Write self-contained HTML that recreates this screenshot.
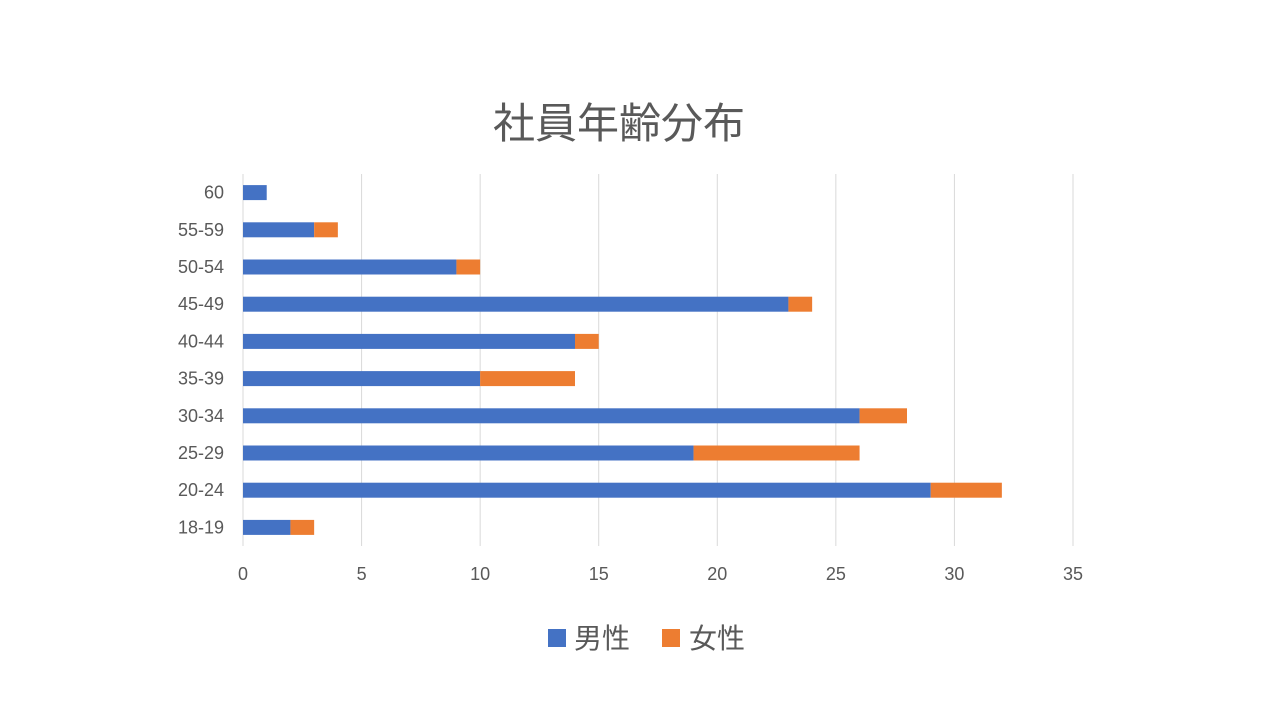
<!DOCTYPE html>
<html><head><meta charset="utf-8"><style>
body{margin:0;background:#fff;width:1280px;height:720px;overflow:hidden;font-family:"Liberation Sans","Noto Sans CJK JP",sans-serif;}
</style></head><body>
<svg width="1280" height="720" xmlns="http://www.w3.org/2000/svg">
<text x="619" y="138" text-anchor="middle" font-size="42" fill="#595959" font-family="Noto Sans CJK JP, sans-serif">社員年齢分布</text>
<g id="grid"></g>
<g id="bars"></g>
<g id="labels"></g>
<g>
<rect x="548" y="629" width="18" height="18" fill="#4472C4"/>
<text x="574" y="648" font-size="28" fill="#595959" font-family="Noto Sans CJK JP, sans-serif">男性</text>
<rect x="662" y="629" width="18" height="18" fill="#ED7D31"/>
<text x="689" y="648" font-size="28" fill="#595959" font-family="Noto Sans CJK JP, sans-serif">女性</text>
</g>
</svg>
<script>
const categories=["18-19","20-24","25-29","30-34","35-39","40-44","45-49","50-54","55-59","60"];
const maleValues=[2,29,19,26,10,14,23,9,3,1];
const femaleValues=[1,3,7,2,4,1,1,1,1,0];
const xTicks=[0,5,10,15,20,25,30,35];
const NS="http://www.w3.org/2000/svg";
const x0=243,x1=1073,xMax=35,plotTop=174,plotBottom=546,bh=15;
const xs=v=>x0+(x1-x0)*v/xMax;
const band=(plotBottom-plotTop)/categories.length;
const yc=i=>plotBottom-band*(i+0.5);
function mk(tag,attrs,parent){const e=document.createElementNS(NS,tag);for(const k in attrs)e.setAttribute(k,attrs[k]);document.getElementById(parent).appendChild(e);return e;}
xTicks.forEach(t=>{
 const l=mk('line',{x1:xs(t),x2:xs(t),y1:plotTop,y2:plotBottom,stroke:'#d9d9d9','stroke-width':1},'grid');
 
 
 const tx=mk('text',{x:xs(t),y:580,'text-anchor':'middle','font-size':18,fill:'#595959'},'labels');
 tx.textContent=t;
 
 
});
categories.forEach((c,i)=>{
 const y=yc(i);
 const m=mk('rect',{x:x0,y:y-bh/2,width:xs(maleValues[i])-x0,height:bh,fill:'#4472C4'},'bars');
 
 
 const f=mk('rect',{x:xs(maleValues[i]),y:y-bh/2,width:xs(maleValues[i]+femaleValues[i])-xs(maleValues[i]),height:bh,fill:'#ED7D31'},'bars');
 
 
 const t=mk('text',{x:224,y:y+6,'text-anchor':'end','font-size':18,fill:'#595959'},'labels');
 t.textContent=c;
 
 
});
</script>
</body></html>
